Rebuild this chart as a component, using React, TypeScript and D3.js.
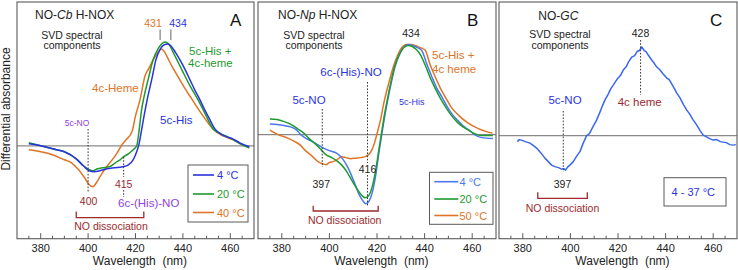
import React from "react";
import * as d3 from "d3";

type Pt = [number, number];

// ---------- shared axis ----------
const xDomain: [number, number] = [370, 470];
const majorTicks = [380, 400, 420, 440, 460];
const minorTicks = [375, 385, 390, 395, 405, 410, 415, 425, 430, 435, 445, 450, 455, 465];

// ---------- Panel A : NO-Cb H-NOX ----------
const yDomainA: [number, number] = [-0.93, 1.44];
const a4C: Pt[] = [[375,0.02],[380,0],[385,-0.03],[390,-0.06],[395,-0.13],[398,-0.2],[400.5,-0.25],[402.5,-0.26],[405,-0.25],[408,-0.23],[411,-0.22],[414.5,-0.21],[417,-0.19],[419,-0.14],[420.5,-0.06],[421.5,0.02],[422.5,0.15],[424,0.35],[425,0.47],[427,0.68],[428.6,0.86],[430.5,0.97],[432,1.01],[433.5,1.02],[435,1.0],[437,0.93],[439,0.85],[441,0.76],[443,0.66],[445,0.56],[447,0.47],[449,0.37],[451,0.28],[453.5,0.17],[456,0.12],[458.5,0.09],[461,0.07],[464,0.03],[468,-0.01]];
const a20C: Pt[] = [[375,0.03],[380,0.0],[385,-0.03],[390,-0.06],[395,-0.13],[398,-0.2],[400.5,-0.24],[402,-0.25],[404,-0.23],[406,-0.22],[409,-0.21],[411.5,-0.17],[413.5,-0.14],[415,-0.11],[417,-0.08],[419,-0.04],[420.5,0.0],[421.5,0.15],[422.5,0.35],[423.5,0.48],[425.5,0.68],[427.4,0.86],[429.5,0.97],[431,1.02],[432.4,1.04],[434,1.02],[436,0.93],[437.5,0.86],[440,0.74],[443,0.6],[446.4,0.46],[449,0.34],[452.7,0.17],[456,0.12],[459,0.09],[462,0.05],[465,0.01],[468,-0.02]];
const a40C: Pt[] = [[375,-0.04],[380,-0.06],[385,-0.09],[390,-0.14],[393,-0.17],[396,-0.24],[398.5,-0.32],[400.5,-0.39],[402,-0.41],[403.5,-0.37],[405.5,-0.29],[407.5,-0.22],[409.5,-0.16],[412,-0.08],[414,0.0],[416,0.06],[418.5,0.14],[420,0.3],[422,0.47],[424,0.7],[425.5,0.77],[427,0.84],[429,0.92],[431,0.97],[432.5,0.93],[434,0.86],[436,0.77],[438.5,0.67],[441,0.57],[444,0.46],[447,0.35],[450,0.25],[453,0.16],[456,0.11],[459,0.08],[462,0.05],[465,0.01],[468,-0.02]];
const legendA = ["4 °C", "20 °C", "40 °C"];

// ---------- Panel B : NO-Np H-NOX ----------
const yDomainB: [number, number] = [-1.04, 1.325];
const b4C: Pt[] = [[375,0.105],[378,0.1],[381,0.09],[384,0.075],[386,0.05],[388,0.0],[390,-0.035],[392,-0.06],[395,-0.1],[397.5,-0.135],[400,-0.16],[403,-0.185],[405.5,-0.24],[408,-0.34],[410.5,-0.48],[412.5,-0.6],[414,-0.66],[415.2,-0.69],[416.5,-0.67],[418,-0.58],[419.5,-0.4],[420.8,-0.18],[422,0.0],[423,0.15],[424.5,0.345],[426,0.52],[427.6,0.68],[429.5,0.8],[431.5,0.88],[433.2,0.9],[435,0.89],[437,0.87],[438.8,0.84],[441,0.7],[443,0.58],[445,0.47],[447.2,0.38],[449.5,0.28],[451.4,0.21],[454,0.14],[456,0.09],[458.4,0.05],[461,0.0],[464,-0.03],[468.7,-0.04]];
const b20C: Pt[] = [[375,0.155],[378,0.15],[381,0.13],[384,0.1],[386.5,0.06],[389,0.02],[391,-0.03],[394,-0.09],[396.5,-0.15],[398.5,-0.2],[401,-0.23],[403,-0.26],[405,-0.3],[407,-0.36],[409,-0.44],[411,-0.52],[413,-0.59],[415,-0.63],[416.5,-0.61],[418,-0.52],[419.5,-0.35],[420.8,-0.15],[421.8,0.0],[423,0.18],[424.3,0.345],[425.8,0.52],[427.4,0.68],[429.3,0.8],[431.3,0.87],[433,0.89],[434.8,0.88],[436.5,0.85],[438.2,0.8],[440.5,0.68],[442.5,0.56],[444.5,0.46],[446.7,0.36],[449,0.27],[451,0.2],[453.5,0.13],[456,0.08],[458,0.05],[461,0.01],[464,-0.01],[468.7,-0.01]];
const b50C: Pt[] = [[375,0.045],[378.4,0.0],[382,-0.03],[385.5,-0.07],[388,-0.11],[389.7,-0.155],[392.5,-0.21],[395.2,-0.27],[397,-0.29],[398.5,-0.3],[400,-0.28],[401.5,-0.27],[403,-0.255],[405.2,-0.22],[407,-0.23],[409,-0.24],[411,-0.235],[413,-0.23],[415,-0.22],[416.5,-0.2],[417.8,-0.155],[419,-0.08],[419.9,0.0],[421.5,0.15],[423,0.33],[425,0.52],[426.9,0.68],[428.8,0.8],[430.8,0.88],[432.5,0.9],[434.3,0.9],[436,0.89],[438,0.87],[440.2,0.845],[442.3,0.7],[444.4,0.58],[446.5,0.47],[448.6,0.38],[451,0.28],[454.2,0.195],[458,0.12],[462.6,0.06],[466,0.03],[468.5,0.015]];
const legendB = ["4 °C", "20 °C", "50 °C"];

// ---------- Panel C : NO-GC ----------
const yDomainC: [number, number] = [-1.03, 1.335];
const c4to37: Pt[] = [[377.7,-0.06],[378.5,-0.04],[379.5,-0.045],[381,-0.06],[383,-0.075],[384.5,-0.1],[385.8,-0.125],[387.5,-0.17],[389.3,-0.225],[390.7,-0.26],[392.1,-0.295],[393.5,-0.31],[395,-0.32],[396.3,-0.335],[397.2,-0.33],[398,-0.345],[398.8,-0.315],[400,-0.29],[401.2,-0.26],[402.5,-0.21],[404,-0.16],[405.3,-0.08],[406.8,0.0],[408,0.02],[409.5,0.09],[411,0.155],[412.5,0.24],[413.5,0.3],[414.5,0.355],[416,0.42],[417,0.47],[418,0.505],[419.5,0.56],[421,0.6],[422.2,0.655],[423.5,0.69],[424.5,0.74],[425.8,0.785],[427,0.8],[428,0.84],[429,0.85],[430,0.885],[431,0.85],[431.8,0.84],[432.7,0.805],[434,0.76],[435.3,0.72],[436.3,0.685],[437.5,0.66],[438.8,0.62],[440.5,0.575],[441.5,0.56],[443,0.5],[444.7,0.425],[446,0.38],[447.5,0.31],[448.9,0.255],[450,0.22],[451.5,0.16],[453.1,0.105],[454.5,0.05],[455.8,0.005],[457,-0.01],[458.5,-0.03],[460,-0.045],[461.5,-0.04],[463,-0.06],[464.2,-0.065],[465.5,-0.07],[467,-0.09],[468.4,-0.095],[469.5,-0.09]];
const legendC = "4 - 37 °C";

// ---------- styling ----------
const W = 738, H = 270;
const TOP = 2, BOTTOM = 238.7;
const FONT = "'Liberation Sans', Arial, Helvetica, sans-serif";
const DARKRED = "#9c2a2e";
const PURPLE = "#9040e0";
const BLUE = "#2a33e0";
const GREEN = "#1f9a2e";
const ORANGE = "#e07426";
const BLUE_B = "#4a78f0";
const BLUE_C = "#3a66f0";
const FRAME = "#5a5a5a";

type Series = { data: Pt[]; color: string };

function Panel(props: {
  left: number; right: number; yDomain: [number, number]; series: Series[];
  curve: d3.CurveFactory; children: (x: d3.ScaleLinear<number, number>, y: d3.ScaleLinear<number, number>) => React.ReactNode;
}) {
  const { left, right, yDomain, series, curve, children } = props;
  const x = d3.scaleLinear().domain(xDomain).range([left, right]);
  const y = d3.scaleLinear().domain(yDomain).range([BOTTOM, TOP]);
  const line = d3.line<Pt>().x(d => x(d[0])).y(d => y(d[1])).curve(curve);
  return (
    <g>
      <rect x={left} y={TOP} width={right - left} height={BOTTOM - TOP} fill="#fff" />
      <line x1={left} x2={right} y1={y(0)} y2={y(0)} stroke="#8a8a8a" strokeWidth={1.3} />
      {minorTicks.map(t => (
        <line key={"m" + t} x1={x(t)} x2={x(t)} y1={BOTTOM} y2={BOTTOM - 3} stroke={FRAME} strokeWidth={1} />
      ))}
      {majorTicks.map(t => (
        <g key={"M" + t}>
          <line x1={x(t)} x2={x(t)} y1={BOTTOM} y2={BOTTOM - 5.5} stroke={FRAME} strokeWidth={1} />
          <text x={x(t)} y={252} textAnchor="middle" fontSize={11} fill="#222">{t}</text>
        </g>
      ))}
      <text x={(left + right) / 2 + 4.5} y={264.5} textAnchor="middle" fontSize={12} fill="#222" style={{ whiteSpace: "pre" }}>{"Wavelength  (nm)"}</text>
      {series.map((s, i) => (
        <path key={i} d={line(s.data) || ""} fill="none" stroke={s.color} strokeWidth={1.5} strokeLinejoin="round" />
      ))}
      {children(x, y)}
      <rect x={left} y={TOP} width={right - left} height={BOTTOM - TOP} fill="none" stroke={FRAME} strokeWidth={1.1} />
    </g>
  );
}

const Dotted = (p: { x: number; y1: number; y2: number }) => (
  <line x1={p.x} x2={p.x} y1={p.y1} y2={p.y2} stroke="#333" strokeWidth={1} strokeDasharray="1.6,1.6" />
);

const Bracket = (p: { x1: number; x2: number; y1: number; y2: number }) => (
  <path d={`M${p.x1},${p.y1}V${p.y2}H${p.x2}V${p.y1}`} fill="none" stroke={DARKRED} strokeWidth={1.3} />
);

function Legend(p: { x: number; y: number; w: number; h: number; labels: string[]; colors: string[]; rows: number[]; lx1: number; lx2: number; tx: number }) {
  return (
    <g>
      <rect x={p.x} y={p.y} width={p.w} height={p.h} fill="#fff" stroke={FRAME} strokeWidth={1} />
      {p.labels.map((l, i) => (
        <g key={l}>
          <line x1={p.lx1} x2={p.lx2} y1={p.rows[i]} y2={p.rows[i]} stroke={p.colors[i]} strokeWidth={1.6} />
          <text x={p.tx} y={p.rows[i] + 4} fontSize={11} fill={p.colors[i]}>{l}</text>
        </g>
      ))}
    </g>
  );
}

export default function App() {
  return (
    <svg width={W} height={H} viewBox={`0 0 ${W} ${H}`}
      style={{ position: "absolute", left: 0, top: 0, display: "block", background: "#fff" }}
      fontFamily={FONT}>
      <rect x={0} y={0} width={W} height={H} fill="#fff" />
      <text transform="translate(9.5,109) rotate(-90)" textAnchor="middle" fontSize={12} fill="#222">Differential absorbance</text>

      {/* Panel A */}
      <Panel left={17} right={254} yDomain={yDomainA} curve={d3.curveMonotoneX}
        series={[{ data: a40C, color: ORANGE }, { data: a20C, color: GREEN }, { data: a4C, color: BLUE }]}>
        {(x, y) => (
          <g>
            <text x={35} y={19} fontSize={12} fill="#222">NO-<tspan fontStyle="italic">Cb</tspan> H-NOX</text>
            <text x={230} y={26} fontSize={17} fill="#111">A</text>
            <text x={72} y={38.5} fontSize={10.5} textAnchor="middle" fill="#222">SVD spectral</text>
            <text x={72} y={49} fontSize={10.5} textAnchor="middle" fill="#222">components</text>
            <text x={153} y={26.5} fontSize={10.5} textAnchor="middle" fill={ORANGE}>431</text>
            <text x={178} y={26.5} fontSize={10.5} textAnchor="middle" fill={BLUE}>434</text>
            <line x1={x(430.4)} x2={x(430.4)} y1={29.5} y2={40} stroke="#999" strokeWidth={1.5} />
            <line x1={x(434.9)} x2={x(434.9)} y1={29.5} y2={40} stroke="#999" strokeWidth={1.5} />
            <text x={189} y={55} fontSize={11.5} fill={GREEN}>5c-His +</text>
            <text x={188} y={66.5} fontSize={11.5} fill={GREEN}>4c-heme</text>
            <text x={92} y={92} fontSize={11.5} fill={ORANGE}>4c-Heme</text>
            <text x={160} y={124} fontSize={11.5} fill={BLUE}>5c-His</text>
            <text x={77} y={126} fontSize={8.5} textAnchor="middle" fill={PURPLE}>5c-NO</text>
            <Dotted x={x(400)} y1={129} y2={193} />
            <text x={x(400) + 0.5} y={204.5} fontSize={10.5} textAnchor="middle" fill={DARKRED}>400</text>
            <Dotted x={x(415)} y1={157} y2={177} />
            <Dotted x={x(415)} y1={190} y2={197} />
            <text x={x(415)} y={187.5} fontSize={10.5} textAnchor="middle" fill={DARKRED}>415</text>
            <text x={118} y={206.5} fontSize={11.5} fill={PURPLE}>6c-(His)-NO</text>
            <Bracket x1={x(395)} x2={x(423.5)} y1={211.5} y2={217.7} />
            <text x={111} y={229.5} fontSize={10.5} textAnchor="middle" fill={DARKRED}>NO dissociation</text>
            <Legend x={188} y={165} w={60} h={57} labels={legendA} colors={[BLUE, GREEN, ORANGE]}
              rows={[175, 194, 212.5]} lx1={193} lx2={214} tx={217} />
          </g>
        )}
      </Panel>

      {/* Panel B */}
      <Panel left={258} right={496} yDomain={yDomainB} curve={d3.curveMonotoneX}
        series={[{ data: b50C, color: ORANGE }, { data: b4C, color: BLUE_B }, { data: b20C, color: GREEN }]}>
        {(x, y) => (
          <g>
            <text x={278} y={19.3} fontSize={12} fill="#222">NO-<tspan fontStyle="italic">Np</tspan> H-NOX</text>
            <text x={467} y={26} fontSize={17} fill="#111">B</text>
            <text x={314} y={38.5} fontSize={10.5} textAnchor="middle" fill="#222">SVD spectral</text>
            <text x={314} y={49} fontSize={10.5} textAnchor="middle" fill="#222">components</text>
            <text x={411} y={37} fontSize={10.5} textAnchor="middle" fill="#222">434</text>
            <text x={432} y={59} fontSize={11.5} fill={ORANGE}>5c-His +</text>
            <text x={432} y={73} fontSize={11.5} fill={ORANGE}>4c heme</text>
            <text x={351} y={76} fontSize={11.5} textAnchor="middle" fill={BLUE}>6c-(His)-NO</text>
            <Dotted x={x(416)} y1={82} y2={163} />
            <Dotted x={x(416)} y1={175} y2={207} />
            <text x={x(416)} y={173} fontSize={10.5} textAnchor="middle" fill="#222">416</text>
            <text x={309} y={104} fontSize={11.5} textAnchor="middle" fill={BLUE}>5c-NO</text>
            <Dotted x={x(397)} y1={109} y2={167} />
            <text x={x(397) - 1} y={188} fontSize={10.5} textAnchor="middle" fill="#222">397</text>
            <text x={411.7} y={104.5} fontSize={9} textAnchor="middle" fill={BLUE}>5c-His</text>
            <Bracket x1={x(393.2)} x2={x(420.5)} y1={205.7} y2={211} />
            <text x={344.7} y={224} fontSize={10.5} textAnchor="middle" fill={DARKRED}>NO dissociation</text>
            <Legend x={429.5} y={172.3} w={63.5} h={52} labels={legendB} colors={[BLUE_B, GREEN, ORANGE]}
              rows={[181.7, 199, 215.5]} lx1={434.3} lx2={458.3} tx={459.5} />
          </g>
        )}
      </Panel>

      {/* Panel C */}
      <Panel left={499} right={737} yDomain={yDomainC} curve={d3.curveLinear}
        series={[{ data: c4to37, color: BLUE_C }]}>
        {(x, y) => (
          <g>
            <text x={538.3} y={20} fontSize={12} fill="#222">NO-<tspan fontStyle="italic">GC</tspan></text>
            <text x={710} y={26} fontSize={17} fill="#111">C</text>
            <text x={560} y={38} fontSize={10.5} textAnchor="middle" fill="#222">SVD spectral</text>
            <text x={560} y={48.5} fontSize={10.5} textAnchor="middle" fill="#222">components</text>
            <text x={640.5} y={37} fontSize={10.5} textAnchor="middle" fill="#222">428</text>
            <Dotted x={x(429.5)} y1={40} y2={95} />
            <text x={639.7} y={106} fontSize={11.5} textAnchor="middle" fill={DARKRED}>4c heme</text>
            <text x={565} y={104} fontSize={11.5} textAnchor="middle" fill={BLUE}>5c-NO</text>
            <Dotted x={x(397)} y1={111} y2={172} />
            <text x={562.5} y={188} fontSize={10.5} textAnchor="middle" fill="#222">397</text>
            <Bracket x1={x(386.3)} x2={x(407.1)} y1={192.3} y2={198.3} />
            <text x={562.5} y={212} fontSize={10.5} textAnchor="middle" fill={DARKRED}>NO dissociation</text>
            <rect x={664} y={177.7} width={62} height={28.3} fill="#fff" stroke={FRAME} strokeWidth={1} />
            <text x={693.3} y={196} fontSize={11} textAnchor="middle" fill={BLUE}>{legendC}</text>
          </g>
        )}
      </Panel>
    </svg>
  );
}
